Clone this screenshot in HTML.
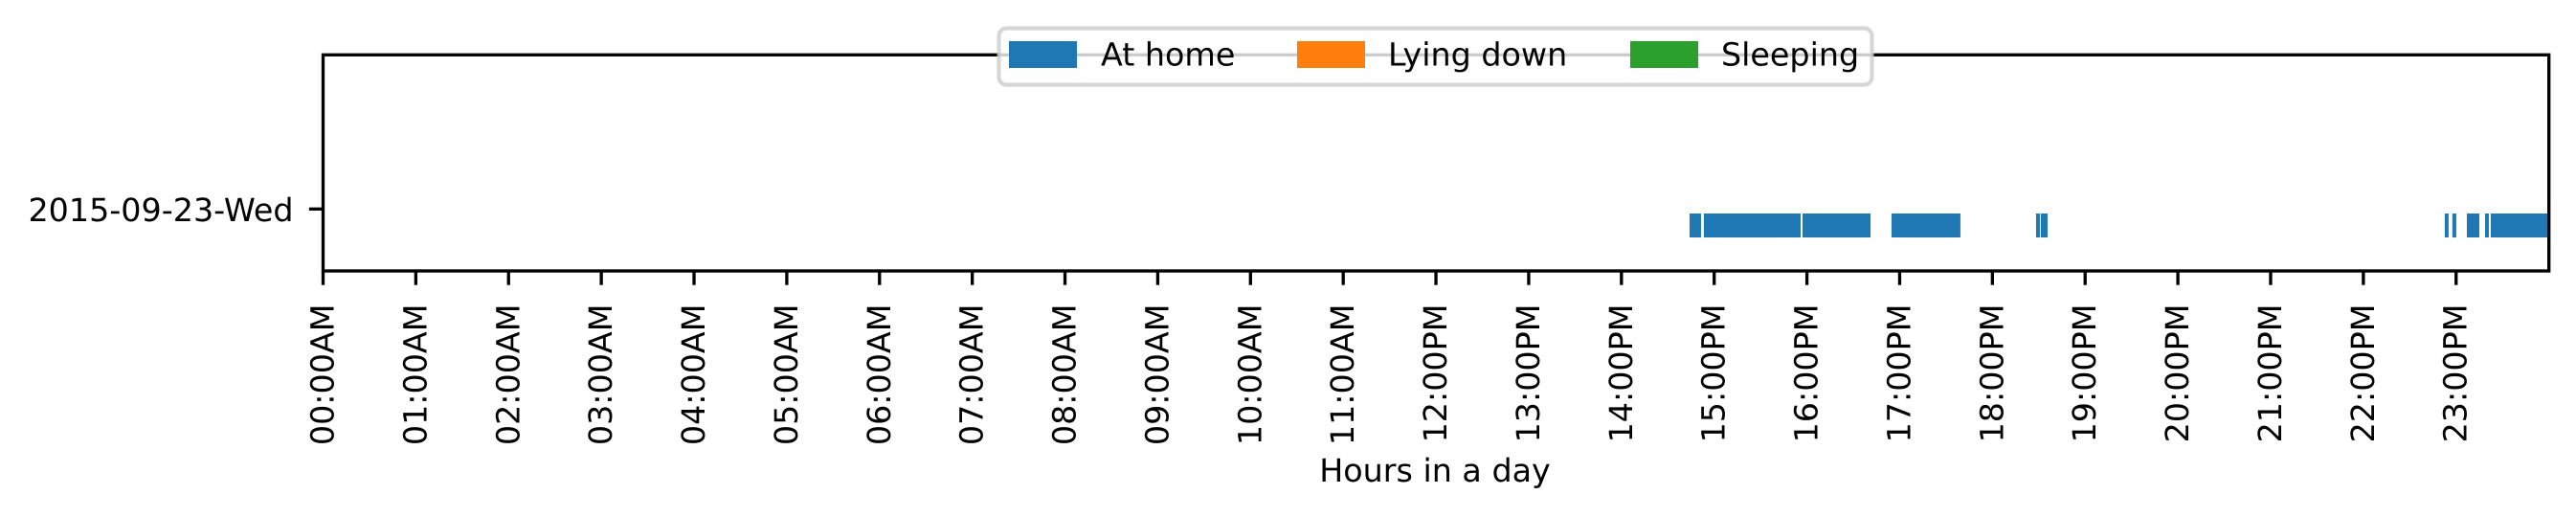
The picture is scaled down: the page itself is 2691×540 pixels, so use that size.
<!DOCTYPE html>
<html lang="en">
<head>
<meta charset="utf-8">
<title>Daily activity chart</title>
<style>
html,body{margin:0;padding:0;background:#fff;width:2691px;height:540px;overflow:hidden}
svg{display:block}
text{font-family:"DejaVu Sans","Liberation Sans",sans-serif;font-size:33.33px;fill:#000;text-rendering:geometricPrecision}
</style>
</head>
<body>
<svg id="chart" xmlns="http://www.w3.org/2000/svg" width="2691" height="540" viewBox="0 0 2691 540">
  <rect x="0" y="0" width="2691" height="540" fill="#fff"/>
  <g id="bars"></g>
  <g id="axes">
    <rect x="337.5" y="57.3" width="2325.2" height="225.7" fill="none" stroke="#000" stroke-width="3.33"/>
  </g>
  <g id="xticks"></g>
  <g id="yticks"></g>
  <text x="1499" y="503" text-anchor="middle">Hours in a day</text>
  <g id="legend">
    <rect x="1043.5" y="29.5" width="912" height="59" rx="8" ry="8" fill="#fff" fill-opacity="0.8" stroke="#ccc" stroke-opacity="0.8" stroke-width="4.17"/>
  </g>
</svg>
<script>
var xTickHours = [0,1,2,3,4,5,6,7,8,9,10,11,12,13,14,15,16,17,18,19,20,21,22,23];
var xTickLabels = ["00:00AM","01:00AM","02:00AM","03:00AM","04:00AM","05:00AM","06:00AM","07:00AM","08:00AM","09:00AM","10:00AM","11:00AM","12:00PM","13:00PM","14:00PM","15:00PM","16:00PM","17:00PM","18:00PM","19:00PM","20:00PM","21:00PM","22:00PM","23:00PM"];
var days = ["2015-09-23-Wed"];
var dayRows = [0];
var homeStarts = [14.735,14.889,15.953,16.912,18.471,18.522,22.878,22.960,23.116,23.312,23.374];
var homeEnds = [14.858,15.932,16.686,17.655,18.512,18.595,22.919,23.002,23.250,23.353,24];
var lyingStarts = [];
var lyingEnds = [];
var sleepStarts = [];
var sleepEnds = [];
var legendLabels = ["At home","Lying down","Sleeping"];

var NS = "http://www.w3.org/2000/svg";
function xScale(h){ return 337.5 + h * 96.88; }
function yScale(row){ return 218.3 - row * 131; }
function make(tag, parentId){
  var el = document.createElementNS(NS, tag);
  document.getElementById(parentId).appendChild(el);
  return el;
}
function drawSeries(starts, ends, color, name){
  for (var i = 0; i < starts.length; i++) {
    var bar = make("rect", "bars");
    
    
    bar.setAttribute("x", xScale(starts[i]));
    bar.setAttribute("y", yScale(dayRows[0]) + 4.7);
    bar.setAttribute("width", xScale(ends[i]) - xScale(starts[i]));
    bar.setAttribute("height", 25);
    bar.setAttribute("fill", color);
  }
}
drawSeries(homeStarts, homeEnds, "#1f77b4", "at-home-bar");
drawSeries(lyingStarts, lyingEnds, "#ff7f0e", "lying-down-bar");
drawSeries(sleepStarts, sleepEnds, "#2ca02c", "sleeping-bar");

xTickHours.forEach(function(h, i){
  var x = xScale(h);
  var tick = make("line", "xticks");
  
  
  tick.setAttribute("x1", x);
  tick.setAttribute("x2", x);
  tick.setAttribute("y1", 283);
  tick.setAttribute("y2", 297.7);
  tick.setAttribute("stroke", "#000");
  tick.setAttribute("stroke-width", "3.33");
  var label = make("text", "xticks");
  
  
  label.setAttribute("text-anchor", "end");
  label.setAttribute("transform", "translate(" + (x + 11) + ",317.5) rotate(-90)");
  label.textContent = xTickLabels[i];
});

days.forEach(function(d, i){
  var y = yScale(dayRows[i]);
  var tick = make("line", "yticks");
  
  
  tick.setAttribute("x1", 322.9);
  tick.setAttribute("x2", 337.5);
  tick.setAttribute("y1", y);
  tick.setAttribute("y2", y);
  tick.setAttribute("stroke", "#000");
  tick.setAttribute("stroke-width", "3.33");
  var label = make("text", "yticks");
  
  
  label.setAttribute("x", 306.5);
  label.setAttribute("y", y + 12.5);
  label.setAttribute("text-anchor", "end");
  label.textContent = d;
});

var legendSwatchX = [1054, 1355, 1703];
var legendTextX = [1150, 1450, 1798];
var legendColors = ["#1f77b4", "#ff7f0e", "#2ca02c"];
legendLabels.forEach(function(text, i){
  var swatch = make("rect", "legend");
  
  
  swatch.setAttribute("x", legendSwatchX[i]);
  swatch.setAttribute("y", 43);
  swatch.setAttribute("width", 71);
  swatch.setAttribute("height", 28);
  swatch.setAttribute("fill", legendColors[i]);
  var label = make("text", "legend");
  
  
  label.setAttribute("x", legendTextX[i]);
  label.setAttribute("y", 68.5);
  label.textContent = text;
});
</script>
</body>
</html>
